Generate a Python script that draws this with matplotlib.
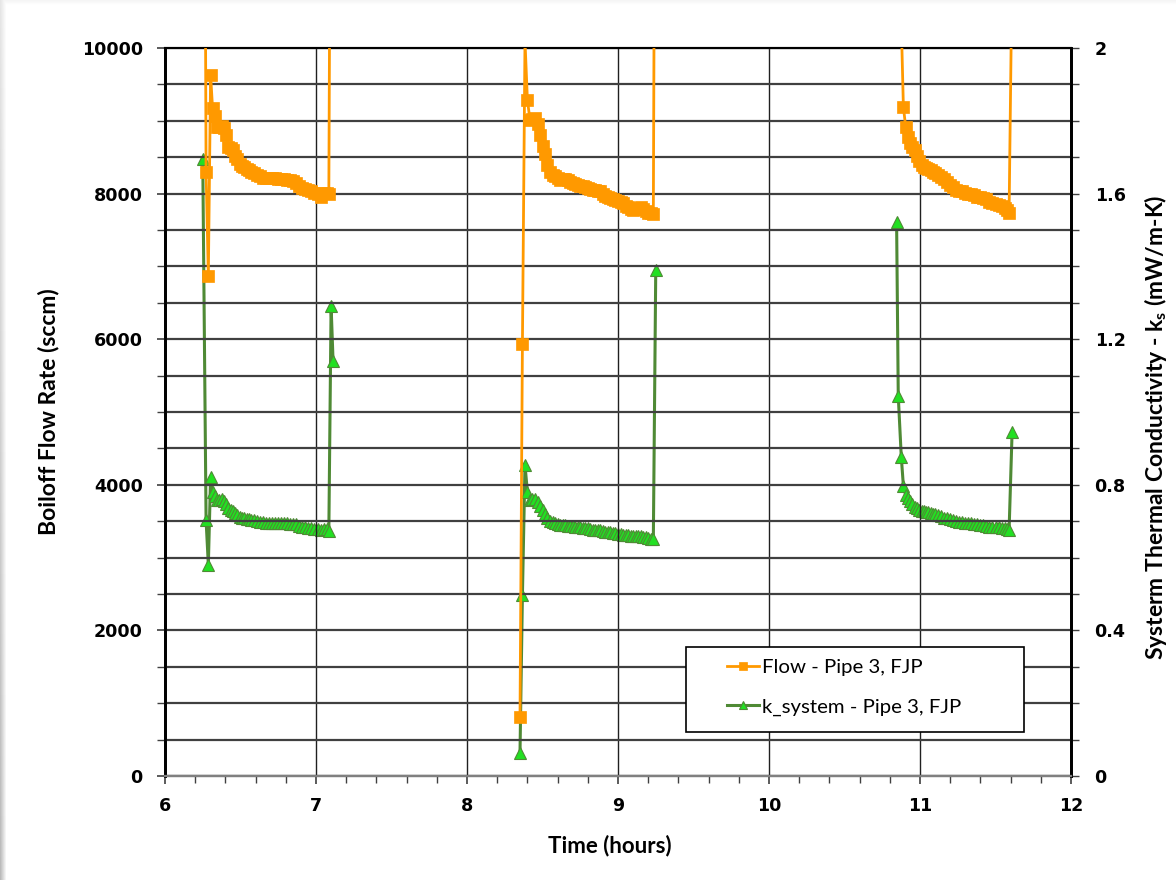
import numpy as np
import matplotlib
matplotlib.use("Agg")
import matplotlib.pyplot as plt
from matplotlib.ticker import MultipleLocator
from matplotlib.patches import Rectangle

# ---------------- data ----------------
# segment 1
t1 = [6.25, 6.272, 6.287, 6.302, 6.315, 6.33, 6.345, 6.36, 6.375, 6.39, 6.405, 6.42,
      6.435, 6.45, 6.465, 6.48, 6.495, 6.51, 6.525, 6.54, 6.555, 6.57, 6.59, 6.61,
      6.63, 6.65, 6.67, 6.69, 6.71, 6.73, 6.75, 6.77, 6.79, 6.81, 6.83, 6.85, 6.87,
      6.89, 6.91, 6.93, 6.95, 6.97, 6.99, 7.01, 7.03, 7.05, 7.07, 7.085, 7.10, 7.113]
flow1 = [20000, 8300, 6870, 9630, 9170, 9060, 8910, 8920, 8930, 8900, 8800, 8640,
         8620, 8600, 8520, 8470, 8400, 8380, 8360, 8340, 8320, 8300, 8280, 8260,
         8240, 8220, 8210, 8210, 8215, 8210, 8200, 8200, 8195, 8190, 8180, 8170, 8150,
         8100, 8080, 8070, 8050, 8030, 8010, 8000, 7960, 8010, 8010, 8000, 15200, 13450]
k1 = [1.695, 0.703, 0.581, 0.822, 0.781, 0.770, 0.758, 0.758, 0.760, 0.755, 0.747, 0.735,
      0.731, 0.728, 0.722, 0.717, 0.712, 0.710, 0.708, 0.707, 0.705, 0.703, 0.702, 0.700,
      0.699, 0.697, 0.696, 0.696, 0.696, 0.696, 0.695, 0.695, 0.694, 0.694, 0.693, 0.692, 0.691,
      0.687, 0.685, 0.684, 0.682, 0.681, 0.679, 0.678, 0.675, 0.679, 0.679, 0.672, 1.291, 1.140]

# segment 2
t2 = [8.351, 8.367, 8.384, 8.40, 8.417, 8.433, 8.45, 8.467, 8.483, 8.50, 8.517, 8.533,
      8.55, 8.567, 8.583, 8.60, 8.616, 8.633, 8.65, 8.667, 8.683, 8.70, 8.717, 8.733,
      8.75, 8.767, 8.783, 8.80, 8.817, 8.833, 8.85, 8.867, 8.883, 8.90, 8.917, 8.933,
      8.95, 8.967, 8.983, 9.00, 9.017, 9.033, 9.05, 9.067, 9.083, 9.10, 9.117, 9.133,
      9.15, 9.167, 9.183, 9.20, 9.217, 9.234, 9.25]
flow2 = [815, 5930, 10100, 9290, 9010, 9020, 9035, 8960, 8800, 8650, 8550, 8390,
         8300, 8260, 8235, 8210, 8190, 8195, 8200, 8180, 8160, 8150, 8130, 8120,
         8110, 8100, 8095, 8080, 8060, 8050, 8045, 8035, 8030, 8000, 7970, 7955,
         7940, 7925, 7915, 7905, 7890, 7870, 7830, 7810, 7790, 7775, 7790, 7800,
         7815, 7790, 7760, 7740, 7730, 7720, 16400]
k2 = [0.064, 0.497, 0.854, 0.781, 0.758, 0.760, 0.762, 0.753, 0.742, 0.731, 0.720, 0.708,
      0.700, 0.697, 0.694, 0.692, 0.690, 0.690, 0.690, 0.688, 0.687, 0.686, 0.685, 0.684,
      0.683, 0.682, 0.681, 0.680, 0.678, 0.677, 0.677, 0.676, 0.675, 0.673, 0.671, 0.670,
      0.669, 0.668, 0.667, 0.666, 0.665, 0.663, 0.662, 0.661, 0.660, 0.659, 0.659, 0.659,
      0.658, 0.657, 0.656, 0.654, 0.652, 0.650, 1.390]

# segment 3
t3 = [10.845, 10.856, 10.876, 10.89, 10.905, 10.92, 10.935, 10.95, 10.965, 10.98, 10.995,
      11.01, 11.025, 11.04, 11.055, 11.07, 11.085, 11.10, 11.12, 11.14, 11.16, 11.18,
      11.20, 11.22, 11.24, 11.26, 11.28, 11.30, 11.32, 11.34, 11.36, 11.38, 11.40, 11.42,
      11.44, 11.46, 11.48, 11.50, 11.52, 11.54, 11.56, 11.575, 11.59, 11.61]
flow3 = [17970, 12300, 10350, 9190, 8920, 8780, 8690, 8640, 8600, 8510, 8450,
         8390, 8370, 8350, 8340, 8325, 8300, 8280, 8255, 8225, 8195, 8160,
         8120, 8090, 8050, 8040, 8030, 8015, 8000, 7995, 7980, 7960, 7950, 7940,
         7920, 7880, 7865, 7860, 7850, 7830, 7800, 7770, 7740, 11160]
k3 = [1.523, 1.044, 0.877, 0.797, 0.772, 0.763, 0.756, 0.748, 0.740, 0.735, 0.731,
      0.728, 0.727, 0.726, 0.724, 0.722, 0.720, 0.719, 0.717, 0.714, 0.710, 0.708,
      0.706, 0.703, 0.700, 0.698, 0.697, 0.696, 0.695, 0.694, 0.693, 0.691, 0.690, 0.689,
      0.687, 0.685, 0.684, 0.684, 0.683, 0.682, 0.680, 0.678, 0.676, 0.946]

flow_label = "Flow - Pipe 3, FJP"
k_label = "k_system - Pipe 3, FJP"
x_label = "Time (hours)"
y_label = "Boiloff Flow Rate (sccm)"
y2_label = r"Systerm Thermal Conductivity - k$_\mathregular{s}$ (mW/m-K)"
x_ticks = [6, 7, 8, 9, 10, 11, 12]
y_ticks = [0, 2000, 4000, 6000, 8000, 10000]
y2_ticks = [0, 0.4, 0.8, 1.2, 1.6, 2]
y2_ticklabels = ["0", "0.4", "0.8", "1.2", "1.6", "2"]

# ---------------- figure ----------------
W, H = 1176, 880
fig = plt.figure(figsize=(W / 100, H / 100), dpi=100)
fig.patch.set_facecolor("white")

# decorative background: grey strip on the left, faint at the top
bg = fig.add_axes([0, 0, 1, 1], zorder=-10)
bg.set_axis_off()
xs = np.arange(W)
ys = np.arange(H)
strip = np.clip(1 - xs / 6.0, 0, 1)[None, :] * (0.10 + 0.17 * ys[:, None] / H)
top = np.clip(1 - ys / 5.0, 0, 1)[:, None] * 0.05
grad = 1 - np.maximum(strip, top)
bg.imshow(grad, cmap="gray", vmin=0, vmax=1, aspect="auto", extent=[0, 1, 0, 1])
bg.set_xlim(0, 1)
bg.set_ylim(0, 1)

L, R = 165 / W, 1071 / W
B, T = 1 - 776 / H, 1 - 48 / H
ax = fig.add_axes([L, B, R - L, T - B])
ax2 = ax.twinx()

def seg(*arrs):
    out = []
    for i, a in enumerate(arrs):
        if i:
            out.append(np.nan)
        out.extend(a)
    return np.array(out, dtype=float)

t_all = seg(t1, t2, t3)
flow_all = seg(flow1, flow2, flow3)
k_all = seg(k1, k2, k3)

orange = "#FF9900"
dgreen = "#4F8A35"
lgreen = "#22E022"

ax.plot(t_all, flow_all, color=orange, lw=2.0, marker="s", ms=8.5,
        mfc=orange, mec=orange, mew=0.5, label=flow_label, zorder=3, clip_on=True)
ax2.plot(t_all, k_all, color=dgreen, lw=2.2, marker="^", ms=8.5,
         mfc=lgreen, mec=dgreen, mew=0.8, label=k_label, zorder=4, clip_on=True)

ax.set_zorder(ax2.get_zorder() + 1)
ax.patch.set_visible(False)

ax.set_xlim(6, 12)
ax.set_ylim(0, 10000)
ax2.set_ylim(0, 2)

ax.xaxis.set_major_locator(MultipleLocator(1))
ax.xaxis.set_minor_locator(MultipleLocator(0.2))
ax.yaxis.set_major_locator(MultipleLocator(2000))
ax.yaxis.set_minor_locator(MultipleLocator(500))
ax2.yaxis.set_major_locator(MultipleLocator(0.4))
ax2.yaxis.set_minor_locator(MultipleLocator(0.1))

ax.grid(True, which="major", axis="x", color="#202020", lw=1.0, zorder=0)
ax.grid(True, which="both", axis="y", color="#404040", lw=1.6, zorder=0)

tickfont = dict(family="DejaVu Sans", weight="bold", size=12.6)
ax.tick_params(axis="both", which="both", direction="out", color="#404040")
ax.tick_params(axis="x", which="major", length=6, width=1.2, pad=9)
ax.tick_params(axis="x", which="minor", length=5, width=1.0)
ax.tick_params(axis="y", which="major", length=6, width=1.2, pad=10)
ax.tick_params(axis="y", which="minor", length=6, width=1.0)
ax2.tick_params(axis="y", which="both", direction="out", length=6, width=1.0, color="#404040", pad=11)
ax.set_xticks(x_ticks)
ax.set_xticklabels([str(v) for v in x_ticks], **tickfont)
ax.set_yticks(y_ticks)
ax.set_yticklabels([str(v) for v in y_ticks], **tickfont)
ax2.set_yticks(y2_ticks)
ax2.set_yticklabels(y2_ticklabels, **tickfont)

for a in (ax, ax2):
    a.spines["left"].set_linewidth(2.0)
    a.spines["left"].set_color("black")
    a.spines["right"].set_linewidth(2.0)
    a.spines["right"].set_color("black")
    a.spines["top"].set_linewidth(1.5)
    a.spines["top"].set_color("black")
    a.spines["bottom"].set_linewidth(1.6)
    a.spines["bottom"].set_color("#808080")

ax.set_xlabel(x_label, labelpad=14, family="Lato", weight="bold", size=16)
ax.xaxis.label.set_x((610 - 165) / 906)
ax.set_ylabel(y_label, labelpad=16, family="Lato", weight="bold", size=16.5)
ax.yaxis.label.set_y((776 - 412) / 728)
ax2.set_ylabel(y2_label, labelpad=12, family="Lato", weight="bold", size=16.5)
ax2.yaxis.label.set_y((776 - 427) / 728)

# legend: entries without frame, frame drawn as a separate box
h1, l1 = ax.get_legend_handles_labels()
h2, l2 = ax2.get_legend_handles_labels()
leg = fig.legend(h1 + h2, l1 + l2, loc="upper left",
                 bbox_to_anchor=(727 / W, 1 - 659 / H), bbox_transform=fig.transFigure,
                 frameon=False, prop=dict(family="Lato", size=14.7),
                 handlelength=1.55, handletextpad=0.15, borderpad=0, labelspacing=1.08,
                 markerscale=0.75, borderaxespad=0)
leg.set_zorder(20)
frame = Rectangle((686 / W, 1 - 732 / H), (1024 - 686) / W, (732 - 647) / H,
                  transform=fig.transFigure, facecolor="white", edgecolor="black",
                  lw=1.2, zorder=15)
fig.add_artist(frame)

fig.savefig("out.png", dpi=100)
